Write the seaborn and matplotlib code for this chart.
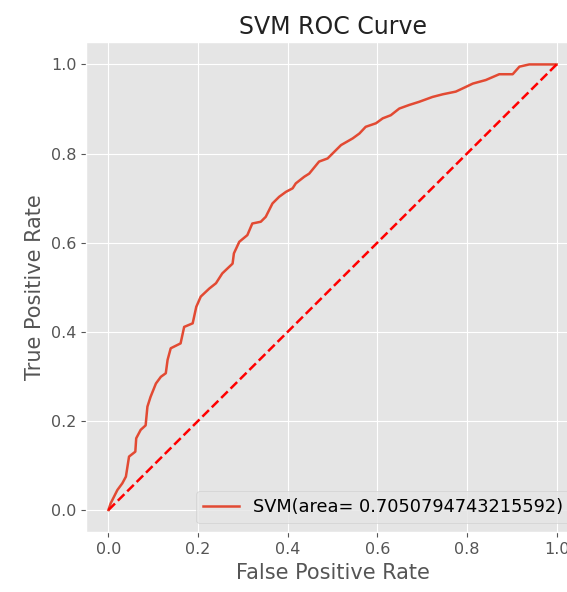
import matplotlib
matplotlib.use("Agg")
import matplotlib.pyplot as plt
import seaborn as sns
import pandas as pd

fpr = [0.0, 0.005, 0.02, 0.031, 0.039, 0.046, 0.06, 0.062, 0.072, 0.083, 0.087, 0.094,
       0.106, 0.117, 0.128, 0.132, 0.139, 0.161, 0.169, 0.188, 0.196, 0.206, 0.225, 0.24,
       0.254, 0.277, 0.28, 0.292, 0.31, 0.321, 0.34, 0.351, 0.366, 0.381, 0.396, 0.411,
       0.418, 0.437, 0.448, 0.47, 0.489, 0.5, 0.519, 0.545, 0.56, 0.574, 0.597, 0.612,
       0.63, 0.649, 0.671, 0.693, 0.723, 0.746, 0.775, 0.79, 0.813, 0.842, 0.872, 0.902,
       0.917, 0.939, 1.0]
tpr = [0.0, 0.015, 0.045, 0.06, 0.075, 0.12, 0.131, 0.161, 0.18, 0.19, 0.232, 0.254,
       0.284, 0.299, 0.307, 0.337, 0.363, 0.374, 0.411, 0.419, 0.456, 0.479, 0.497, 0.509,
       0.531, 0.553, 0.576, 0.602, 0.617, 0.643, 0.647, 0.658, 0.688, 0.703, 0.714, 0.722,
       0.733, 0.748, 0.755, 0.782, 0.789, 0.8, 0.819, 0.834, 0.845, 0.86, 0.868, 0.879,
       0.886, 0.901, 0.909, 0.916, 0.927, 0.933, 0.939, 0.946, 0.957, 0.965, 0.978, 0.978,
       0.995, 1.0, 1.0]
auc_label = "SVM(area= 0.7050794743215592)"
diag_x = [0, 1]
diag_y = [0, 1]

plt.style.use("ggplot")
fig = plt.figure(figsize=(5.67, 5.92), dpi=100)
ax = fig.add_axes([0.1517, 0.1008, 0.8695, 0.828])

df = pd.DataFrame({"fpr": fpr, "tpr": tpr})
sns.lineplot(data=df, x="fpr", y="tpr", estimator=None, sort=False, ax=ax,
             color="#E24A33", lw=1.8, label=auc_label)
ax.plot(diag_x, diag_y, "r--", lw=1.8)

ax.set_xlim(-0.05, 1.05)
ax.set_ylim(-0.05, 1.05)
ax.set_xticks([0, 0.2, 0.4, 0.6, 0.8, 1.0])
ax.set_yticks([0, 0.2, 0.4, 0.6, 0.8, 1.0])
ax.tick_params(labelsize=11.5)
ax.set_xlabel("False Positive Rate", fontsize=15)
ax.set_ylabel("True Positive Rate", fontsize=15)
ax.set_title("SVM ROC Curve", fontsize=17, color="#222222")
ax.legend(loc="lower right", fontsize=12.8)

fig.savefig("out.png", dpi=100)
